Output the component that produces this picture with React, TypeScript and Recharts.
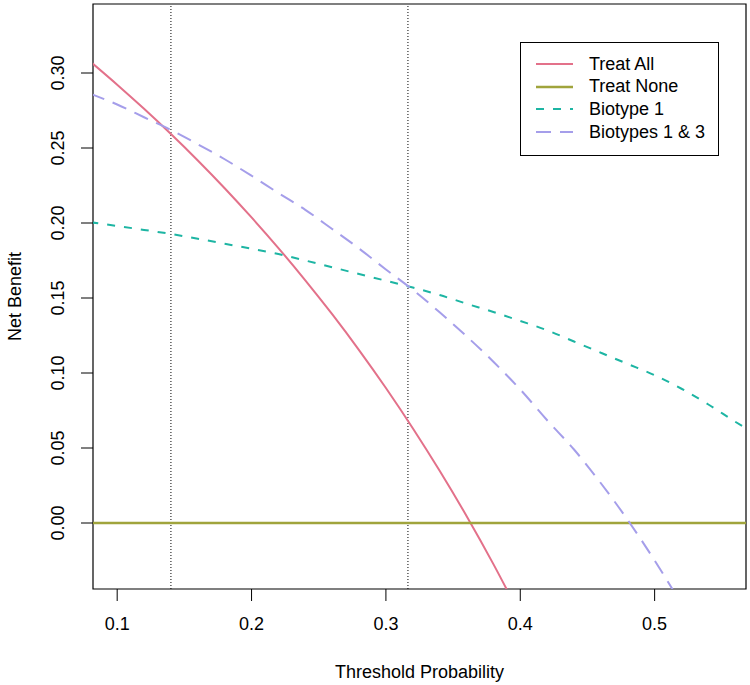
import React from "react"
import {
  LineChart,
  Line,
  XAxis,
  YAxis,
  ReferenceLine,
  ReferenceArea,
} from "recharts"

const thresholds = [
  0.08, 0.1, 0.12, 0.14, 0.16, 0.18, 0.2, 0.22, 0.24, 0.26, 0.28, 0.3, 0.32,
  0.34, 0.36, 0.38, 0.4, 0.42, 0.44, 0.46, 0.48, 0.5, 0.52, 0.54, 0.56, 0.57,
]
const treatAll = [
  0.3076, 0.2922, 0.2761, 0.2593, 0.2417, 0.2232, 0.2037, 0.1833, 0.1618,
  0.1392, 0.1153, 0.09, 0.0632, 0.0348, 0.0047, -0.0274, -0.0617,
]
const treatNone = thresholds.map(() => 0)
const biotype1 = [
  0.2005, 0.198, 0.1954, 0.1927, 0.1895, 0.1862, 0.1828, 0.1793, 0.175,
  0.1705, 0.166, 0.1615, 0.157, 0.152, 0.1462, 0.1407, 0.1347, 0.1285, 0.121,
  0.1135, 0.106, 0.0985, 0.0895, 0.079, 0.0675, 0.062,
]
const biotypes13 = [
  0.2862, 0.279, 0.2705, 0.262, 0.2525, 0.2425, 0.2315, 0.22, 0.2088, 0.196,
  0.183, 0.169, 0.1555, 0.1405, 0.1245, 0.1075, 0.089, 0.0685, 0.049, 0.0265,
  0.002, -0.025, -0.054,
]
const cutoffs = [0.14, 0.3164]
const xTicks = [0.1, 0.2, 0.3, 0.4, 0.5]
const yTicks = [0, 0.05, 0.1, 0.15, 0.2, 0.25, 0.3]

const X_DOMAIN: [number, number] = [0.082, 0.568]
const Y_DOMAIN: [number, number] = [-0.044, 0.346]
const FONT = "'Liberation Sans', Arial, sans-serif"

const series = [
  { key: "all", name: "Treat All", color: "#E3718A", dash: undefined, width: 2 },
  { key: "none", name: "Treat None", color: "#A0A43C", dash: undefined, width: 2.5 },
  { key: "b1", name: "Biotype 1", color: "#1DB5A3", dash: "8 9", width: 2 },
  { key: "b13", name: "Biotypes 1 & 3", color: "#A59EEA", dash: "15 9", width: 2 },
]

const data = thresholds.map((pt, i) => ({
  pt,
  all: treatAll[i] ?? null,
  none: treatNone[i],
  b1: biotype1[i] ?? null,
  b13: biotypes13[i] ?? null,
}))

function YTick({ y, payload }: any) {
  return (
    <text
      x={58}
      y={y}
      transform={`rotate(-90, 58, ${y})`}
      textAnchor="middle"
      dominantBaseline="central"
      fontSize={18}
      fontFamily={FONT}
      fill="#000"
    >
      {payload.value.toFixed(2)}
    </text>
  )
}

function XTick({ x, payload }: any) {
  return (
    <text
      x={x}
      y={624}
      textAnchor="middle"
      dominantBaseline="central"
      fontSize={18}
      fontFamily={FONT}
      fill="#000"
    >
      {payload.value.toFixed(1)}
    </text>
  )
}

export default function App() {
  return (
    <div style={{ position: "relative", width: 750, height: 685, background: "#fff" }}>
      <style>{`body{margin:0}`}</style>
      <LineChart
        width={750}
        height={685}
        data={data}
        margin={{ top: 4, right: 4, left: 0, bottom: 0 }}
      >
        <XAxis
          dataKey="pt"
          type="number"
          domain={X_DOMAIN}
          ticks={xTicks}
          allowDataOverflow
          height={96}
          axisLine={false}
          tickSize={12}
          tickLine={{ stroke: "#000" }}
          tick={<XTick />}
          label={{
            value: "Threshold Probability",
            position: "insideBottom",
            offset: 7,
            style: { fontSize: 18, fontFamily: FONT, fill: "#000" },
          }}
        />
        <YAxis
          type="number"
          domain={Y_DOMAIN}
          ticks={yTicks}
          allowDataOverflow
          width={93}
          axisLine={false}
          tickSize={12}
          tickLine={{ stroke: "#000" }}
          tick={<YTick />}
          label={{
            value: "Net Benefit",
            angle: -90,
            position: "insideLeft",
            offset: 15,
            style: { fontSize: 18, fontFamily: FONT, fill: "#000", textAnchor: "middle" },
          }}
        />
        {cutoffs.map((c) => (
          <ReferenceLine key={c} x={c} stroke="#000" strokeDasharray="1 2" strokeWidth={1} />
        ))}
        {series.map((s) => (
          <Line
            key={s.key}
            dataKey={s.key}
            name={s.name}
            type="monotone"
            stroke={s.color}
            strokeWidth={s.width}
            strokeDasharray={s.dash}
            dot={false}
            activeDot={false}
            isAnimationActive={false}
          />
        ))}
        <ReferenceArea
          x1={X_DOMAIN[0]}
          x2={X_DOMAIN[1]}
          y1={Y_DOMAIN[0]}
          y2={Y_DOMAIN[1]}
          fill="none"
          fillOpacity={0}
          stroke="#000"
          strokeWidth={1.2}
        />
      </LineChart>
      <div
        style={{
          position: "absolute",
          left: 520,
          top: 42,
          width: 197,
          height: 112,
          border: "1px solid #000",
          background: "#fff",
          fontFamily: FONT,
          fontSize: 18,
        }}
      >
        {series.map((s, i) => (
          <div
            key={s.key}
            style={{ position: "absolute", left: 0, top: 10 + i * 22.7, height: 22, display: "flex", alignItems: "center" }}
          >
            <svg width={60} height={22} style={{ display: "block" }}>
              <line
                x1={15}
                x2={52}
                y1={11}
                y2={11}
                stroke={s.color}
                strokeWidth={s.width}
                strokeDasharray={s.dash}
              />
            </svg>
            <span style={{ marginLeft: 8, whiteSpace: "nowrap" }}>{s.name}</span>
          </div>
        ))}
      </div>
    </div>
  )
}
